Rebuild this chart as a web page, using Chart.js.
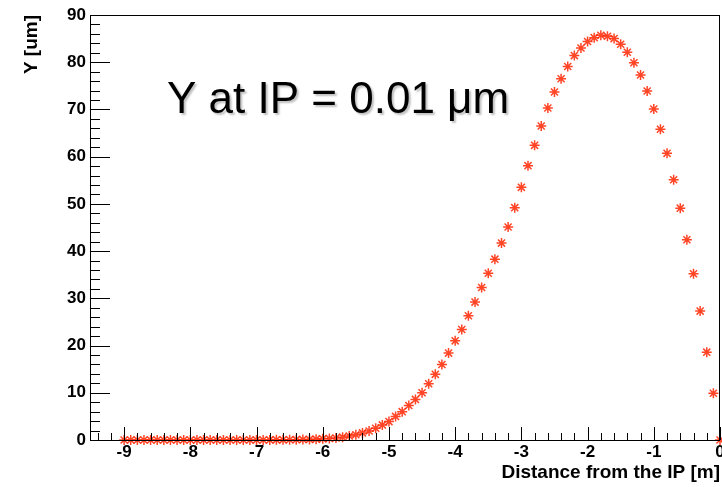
<!DOCTYPE html>
<html>
<head>
<meta charset="utf-8">
<title>Y vs distance from IP</title>
<script src="https://cdn.jsdelivr.net/npm/chart.js@4.4.0/dist/chart.umd.min.js"></script>
<style>
  html, body { margin: 0; padding: 0; background: #fff; }
  canvas { display: block; }
</style>
</head>
<body>
<canvas id="plot" width="722" height="487"></canvas>
<script>
// ==== DATA ====
// distance from the IP [m]
const distance = [
  -9.0, -8.9, -8.8, -8.7, -8.6, -8.5, -8.4, -8.3, -8.2, -8.1,
  -8.0, -7.9, -7.8, -7.7, -7.6, -7.5, -7.4, -7.3, -7.2, -7.1,
  -7.0, -6.9, -6.8, -6.7, -6.6, -6.5, -6.4, -6.3, -6.2, -6.1,
  -6.0, -5.9, -5.8, -5.7, -5.6, -5.5, -5.4, -5.3, -5.2, -5.1,
  -5.0, -4.9, -4.8, -4.7, -4.6, -4.5, -4.4, -4.3, -4.2, -4.1,
  -4.0, -3.9, -3.8, -3.7, -3.6, -3.5, -3.4, -3.3, -3.2, -3.1,
  -3.0, -2.9, -2.8, -2.7, -2.6, -2.5, -2.4, -2.3, -2.2, -2.1,
  -2.0, -1.9, -1.8, -1.7, -1.6, -1.5, -1.4, -1.3, -1.2, -1.1,
  -1.0, -0.9, -0.8, -0.7, -0.6, -0.5, -0.4, -0.3, -0.2, -0.1,
  0.0
];

// Y [um]
const yPos = [
  0, 0, 0, 0, 0, 0, 0, 0, 0, 0,
  0, 0, 0, 0, 0, 0, 0, 0, 0, 0,
  0, 0.01, 0.02, 0.03, 0.04, 0.05, 0.07, 0.1, 0.13, 0.18,
  0.24, 0.32, 0.43, 0.6, 0.85, 1.1, 1.5, 1.9, 2.5, 3.2,
  3.9, 5.0, 6.0, 7.3, 8.6, 10.0, 11.9, 13.9, 16.0, 18.4,
  21.0, 23.4, 26.3, 29.2, 32.3, 35.3, 38.3, 41.7, 45.1, 49.2,
  53.5, 58.1, 62.4, 66.5, 70.3, 73.7, 76.5, 79.1, 81.4, 83.0,
  84.4, 85.2, 85.7, 85.5, 85.0, 83.8, 82.1, 79.9, 77.3, 73.9,
  70.1, 65.8, 60.7, 55.1, 49.1, 42.4, 35.2, 27.3, 18.6, 9.9,
  0
];

const xTicks = [-9, -8, -7, -6, -5, -4, -3, -2, -1, 0];
const yTicks = [0, 10, 20, 30, 40, 50, 60, 70, 80, 90];

const xTitle = "Distance from the IP [m]";
const yTitle = "Y [um]";
const note = "Y at IP = 0.01 \u03bcm";

// ==== STYLE ====
const FONT = "'Liberation Sans', Arial, sans-serif";
const tickFont = { family: FONT, size: 17, weight: "bold" };
const titleFont = { family: FONT, size: 19, weight: "bold" };
const markerColor = "rgba(255, 36, 0, 0.85)";

Chart.defaults.font.family = FONT;

// frame, inner tick marks and the big label (ROOT style)
const rootFrame = {
  id: "rootFrame",
  afterDraw(chart) {
    const { ctx, chartArea: a, scales: { x, y } } = chart;
    ctx.save();
    ctx.strokeStyle = "#000";
    ctx.lineWidth = 1;

    // box
    ctx.strokeRect(a.left - 0.5, a.top + 0.5, a.right - a.left, a.bottom - a.top);

    ctx.beginPath();
    // x ticks every 0.2, going up from the bottom axis
    for (let i = -47; i <= 0; i++) {
      const px = Math.round(x.getPixelForValue(i / 5)) + 0.5;
      const len = i % 5 === 0 ? 13 : 7;
      ctx.moveTo(px, a.bottom);
      ctx.lineTo(px, a.bottom - len);
    }
    // y ticks every 2, going right from the left axis
    for (let v = 0; v <= 90; v += 2) {
      const py = Math.round(y.getPixelForValue(v)) + 0.5;
      const len = v % 10 === 0 ? 19 : 9;
      ctx.moveTo(a.left, py);
      ctx.lineTo(a.left + len, py);
    }
    ctx.stroke();

    // annotation
    ctx.font = "44px " + FONT;
    ctx.fillStyle = "#000";
    ctx.textBaseline = "alphabetic";
    ctx.shadowColor = "rgba(0, 0, 0, 0.25)";
    ctx.shadowOffsetX = 2;
    ctx.shadowOffsetY = 2;
    ctx.shadowBlur = 2;
    ctx.fillText(note, 167, 113);
    ctx.restore();
  }
};

new Chart(document.getElementById("plot"), {
  type: "scatter",
  data: {
    datasets: [
      {
        data: distance.map((d, i) => ({ x: d, y: yPos[i] })),
        showLine: false,
        pointStyle: "star",
        pointRadius: 5,
        pointHoverRadius: 5,
        borderWidth: 1.5,
        borderColor: markerColor,
        backgroundColor: markerColor,
        clip: false
      }
    ]
  },
  options: {
    responsive: false,
    animation: false,
    events: [],
    layout: { autoPadding: false, padding: { top: 15, right: 2, bottom: 0, left: 0 } },
    plugins: {
      legend: { display: false },
      tooltip: { enabled: false }
    },
    scales: {
      x: {
        type: "linear",
        min: -9.5,
        max: 0,
        afterBuildTicks: s => { s.ticks = xTicks.map(v => ({ value: v })); },
        afterFit: s => { s.height = 47; s.paddingLeft = 0; s.paddingRight = 0; },
        grid: { display: false, drawTicks: false },
        border: { display: false },
        ticks: {
          padding: 2,
          color: "#000",
          font: tickFont,
          maxRotation: 0,
          autoSkip: false,
          callback: v => String(v)
        },
        title: {
          display: true,
          text: xTitle,
          align: "end",
          color: "#000",
          font: titleFont,
          padding: { top: 0, bottom: 3 }
        }
      },
      y: {
        type: "linear",
        min: 0,
        max: 90,
        afterBuildTicks: s => { s.ticks = yTicks.map(v => ({ value: v })); },
        afterFit: s => { s.width = 91; s.paddingTop = 0; s.paddingBottom = 0; },
        grid: { display: false, drawTicks: false },
        border: { display: false },
        ticks: {
          padding: 5,
          color: "#000",
          font: tickFont,
          autoSkip: false,
          callback: v => String(v)
        },
        title: {
          display: true,
          text: yTitle,
          align: "end",
          color: "#000",
          font: titleFont,
          padding: { top: 20, bottom: 0 }
        }
      }
    }
  },
  plugins: [rootFrame]
});
</script>
</body>
</html>
